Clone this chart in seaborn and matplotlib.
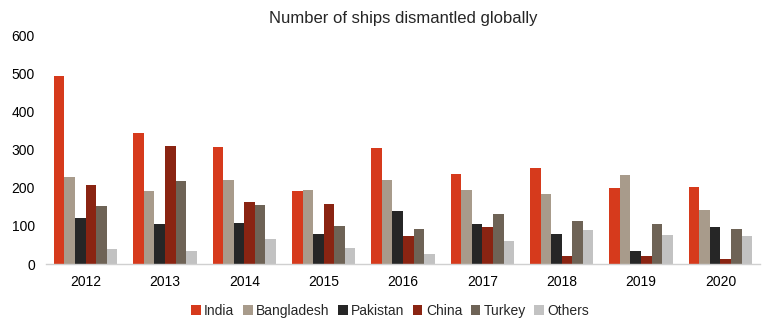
import matplotlib
matplotlib.use("Agg")
import matplotlib.pyplot as plt
import seaborn as sns
import pandas as pd

years = ["2012", "2013", "2014", "2015", "2016", "2017", "2018", "2019", "2020"]
india = [495, 346, 308, 192, 304, 238, 252, 199, 203]
bangladesh = [229, 191, 220, 194, 220, 196, 184, 233, 143]
pakistan = [122, 104, 108, 80, 140, 106, 80, 35, 98]
china = [207, 310, 162, 157, 73, 97, 21, 20, 14]
turkey = [152, 219, 155, 99, 91, 131, 112, 106, 93]
others = [39, 35, 65, 41, 27, 60, 90, 76, 73]

series = {"India": india, "Bangladesh": bangladesh, "Pakistan": pakistan,
          "China": china, "Turkey": turkey, "Others": others}
colors = ["#D63A1C", "#A89B8B", "#262626", "#8A2412", "#6E6356", "#C2C2C2"]

rows = []
for name, vals in series.items():
    for y, v in zip(years, vals):
        rows.append({"Year": y, "Country": name, "Ships": v})
df = pd.DataFrame(rows)

sns.set_theme(style="white")
plt.rcParams["font.family"] = ["Liberation Sans", "DejaVu Sans"]

fig = plt.figure(figsize=(7.74, 3.30), dpi=100)
ax = fig.add_axes([0.0594, 0.2, 0.9226, 0.691])
sns.barplot(data=df, x="Year", y="Ships", hue="Country", palette=colors,
            width=0.8, saturation=1, linewidth=0, edgecolor="none",
            ax=ax, legend=True)

ax.set_ylim(0, 600)
ax.set_yticks([0, 100, 200, 300, 400, 500, 600])
ax.set_xlim(-0.5, 8.5)
ax.set_xlabel("")
ax.set_ylabel("")
for s in ["top", "right", "left"]:
    ax.spines[s].set_visible(False)
ax.spines["bottom"].set_color("#D0D0D0")
ax.spines["bottom"].set_linewidth(1)
ax.tick_params(axis="both", length=0, labelsize=10, colors="#000000", pad=8)

ax.set_title("Number of ships dismantled globally", fontsize=12, pad=9)

ax.legend(loc="upper center", bbox_to_anchor=(0.482, -0.12), ncol=6, frameon=False,
          fontsize=10, handlelength=0.7, handleheight=0.7, handletextpad=0.25,
          columnspacing=0.6)

fig.savefig("out.png", dpi=100)
